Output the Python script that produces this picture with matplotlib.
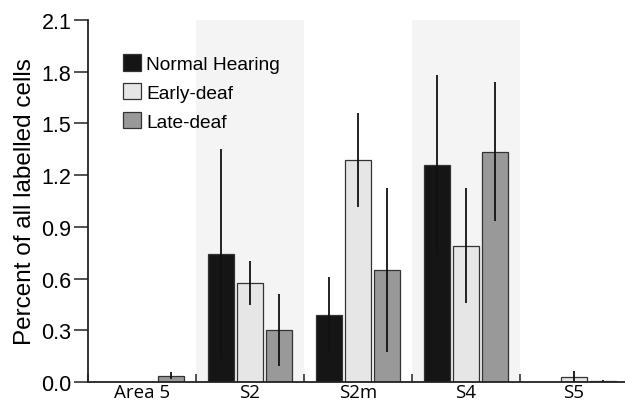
import matplotlib
matplotlib.use("Agg")
import matplotlib.pyplot as plt
import numpy as np

categories = ["Area 5", "S2", "S2m", "S4", "S5"]
series_names = ["Normal Hearing", "Early-deaf", "Late-deaf"]
normal = [0.0, 0.743, 0.39, 1.261, 0.0]
normal_err = [0.0, 0.607, 0.218, 0.52, 0.0]
early = [0.0, 0.573, 1.288, 0.791, 0.031]
early_err = [0.0, 0.127, 0.275, 0.334, 0.03]
late = [0.037, 0.30, 0.652, 1.336, 0.006]
late_err = [0.019, 0.208, 0.476, 0.402, 0.004]
yticks = [0.0, 0.3, 0.6, 0.9, 1.2, 1.5, 1.8, 2.1]
shaded = ["S2", "S4"]

colors = ["#151515", "#e6e6e6", "#999999"]

fig = plt.figure(figsize=(6.25, 4.1), dpi=100)
ax = fig.add_axes([88/625, 27/410, 540/625, 362/410])

x = np.arange(len(categories))
offs = [-0.27, 0.0, 0.27]
width = 0.245

for cat in shaded:
    i = categories.index(cat)
    ax.axvspan(i - 0.5, i + 0.5, ymin=0, ymax=1, color="#f4f4f4", zorder=0, lw=0)

for vals, errs, col, off, name in zip([normal, early, late], [normal_err, early_err, late_err],
                                       colors, offs, series_names):
    ax.bar(x + off, vals, width, color=col, edgecolor="#333333", linewidth=0.9,
           label=name, zorder=2)
    errs_arr = np.array(errs)
    mask = errs_arr > 0
    ax.errorbar((x + off)[mask], np.array(vals)[mask], yerr=errs_arr[mask], fmt="none",
                ecolor="#111111", elinewidth=1.3, capsize=0, zorder=3)

ax.set_xlim(-0.5, 4.5)
ax.set_ylim(0, 2.1)
ax.set_yticks(yticks)
ax.set_yticklabels([f"{v:.1f}" for v in yticks], fontfamily="Liberation Sans", fontsize=15.5)
ax.set_xticks(x)
ax.set_xticklabels(categories, fontfamily="Open Sans", fontsize=13.5)
ax.set_xticks(np.arange(-0.5, 5.0, 1.0), minor=True)
ax.tick_params(axis="x", which="major", length=0, pad=1)
ax.tick_params(axis="x", which="minor", direction="in", length=6, width=1.1, color="#222222")
ax.tick_params(axis="y", direction="out", length=10, width=1.1, pad=2, color="#222222")

for s in ["top", "right"]:
    ax.spines[s].set_visible(False)
for s in ["left", "bottom"]:
    ax.spines[s].set_linewidth(1.3)
    ax.spines[s].set_color("#222222")
    ax.spines[s].set_zorder(4)

ax.set_ylabel("Percent of all labelled cells", fontfamily="Liberation Sans", fontsize=17.5, labelpad=4)

leg = ax.legend(loc="upper left", bbox_to_anchor=(0.065, 0.906), frameon=False,
                prop={"family": "Liberation Sans", "size": 13.8},
                handlelength=0.95, handleheight=0.95, handletextpad=0.25,
                labelspacing=0.52, borderpad=0, borderaxespad=0)

fig.savefig("out.png", dpi=100)
